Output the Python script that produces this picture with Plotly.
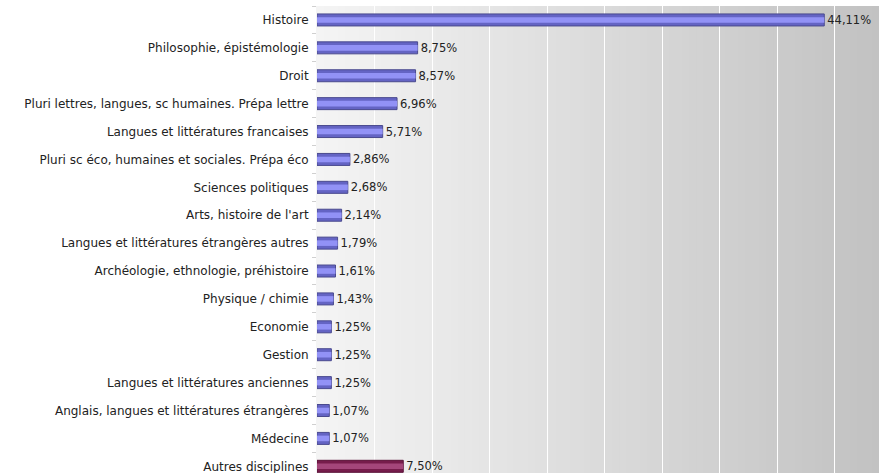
import plotly.graph_objects as go

categories = [
    "Histoire",
    "Philosophie, épistémologie",
    "Droit",
    "Pluri lettres, langues, sc humaines. Prépa lettre",
    "Langues et littératures francaises",
    "Pluri sc éco, humaines et sociales. Prépa éco",
    "Sciences politiques",
    "Arts, histoire de l'art",
    "Langues et littératures étrangères autres",
    "Archéologie, ethnologie, préhistoire",
    "Physique / chimie",
    "Economie",
    "Gestion",
    "Langues et littératures anciennes",
    "Anglais, langues et littératures étrangères",
    "Médecine",
    "Autres disciplines",
]
values = [44.11, 8.75, 8.57, 6.96, 5.71, 2.86, 2.68, 2.14, 1.79, 1.61, 1.43,
          1.25, 1.25, 1.25, 1.07, 1.07, 7.50]

base_colors = ["#6464c4"] * 16 + ["#761c4b"]
light_colors = ["#9292f6"] * 16 + ["#a4467a"]
line_colors = ["#4a4a8e"] * 16 + ["#5a1238"]

FONT = "DejaVu Sans, Verdana, sans-serif"

fig = go.Figure()
fig.add_trace(go.Bar(
    y=categories, x=values, orientation="h", width=0.43,
    marker=dict(color=base_colors, line=dict(color=line_colors, width=1)),
    texttemplate="%{x:.2f}%", textposition="outside", constraintext="none",
    textfont=dict(size=11.5, color="#222222", family=FONT),
    cliponaxis=False, hoverinfo="skip",
))
fig.add_trace(go.Bar(
    y=categories, x=values, orientation="h", width=0.2,
    marker=dict(color=light_colors, line=dict(width=0)),
    hoverinfo="skip",
))

# gradient background strips
shapes = []
n = 80
c0, c1 = 244, 194
for i in range(n):
    t = i / (n - 1)
    c = round(c0 + (c1 - c0) * t)
    shapes.append(dict(type="rect", xref="paper", yref="paper",
                       x0=i / n, x1=(i + 1) / n + 0.002, y0=0, y1=1,
                       fillcolor=f"rgb({c},{c},{c})", line=dict(width=0),
                       layer="below"))

fig.update_layout(
    width=879, height=473,
    margin=dict(l=317, r=0, t=6, b=0),
    paper_bgcolor="white", plot_bgcolor="white",
    barmode="overlay", showlegend=False,
    separators=", ",
    font=dict(family=FONT, size=11.5, color="#222222"),
    shapes=shapes,
    xaxis=dict(range=[0, 48.87], dtick=5, showgrid=True, gridcolor="white",
               gridwidth=1, showticklabels=False, zeroline=False, ticks=""),
    yaxis=dict(type="category", categoryorder="array", categoryarray=categories,
               range=[16.24, -0.5], tickson="boundaries", ticks="outside",
               ticklen=4, tickcolor="#d0d0d0", showline=True, linecolor="#f4f4f4",
               showgrid=False, ticklabelstandoff=5,
               tickfont=dict(size=12, color="#222222", family=FONT)),
)

fig.write_html(
    "out.html",
    config={"displayModeBar": False},
    post_script="document.body.style.margin='0';document.body.style.overflow='hidden';",
)
